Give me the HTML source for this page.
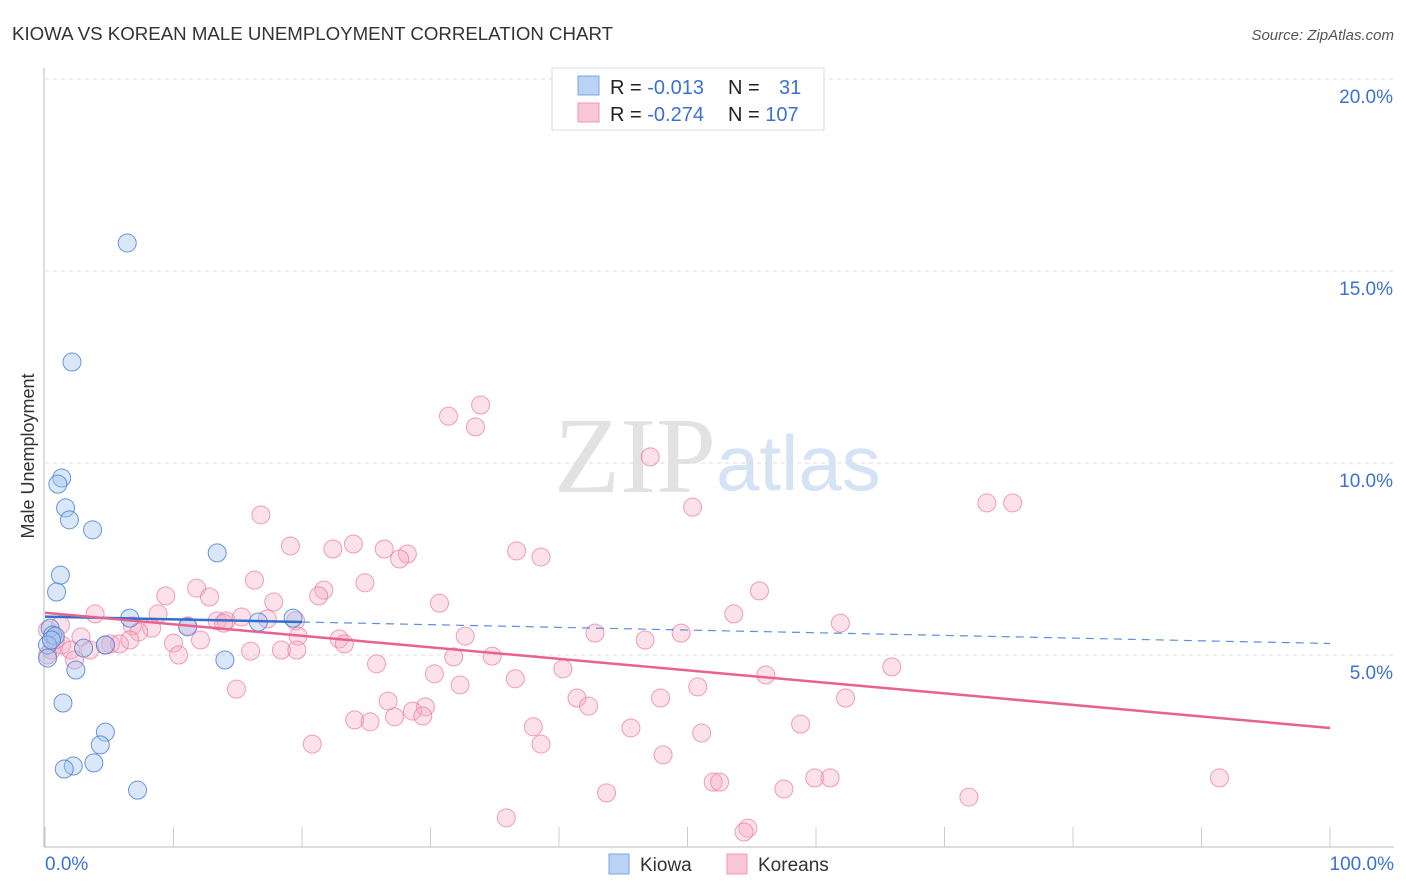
<!DOCTYPE html>
<html><head><meta charset="utf-8"><style>
body{margin:0;background:#fff;font-family:"Liberation Sans",sans-serif;}
svg{display:block}
</style></head><body>
<svg id="chart" width="1406" height="892">
<text x="12" y="40" font-size="18" fill="#333" textLength="601" lengthAdjust="spacingAndGlyphs">KIOWA VS KOREAN MALE UNEMPLOYMENT CORRELATION CHART</text>
<text x="1394" y="40" font-size="15" fill="#555" font-style="italic" text-anchor="end">Source: ZipAtlas.com</text>
<text x="716" y="492" font-size="108" fill="#e2e2e2" text-anchor="end" font-family="Liberation Serif">ZIP</text>
<text x="716" y="490" font-size="78" fill="#d5e3f5">atlas</text>
<text transform="translate(34,456) rotate(-90)" font-size="18" fill="#333" text-anchor="middle">Male Unemployment</text>
<g id="grid"></g><g id="marks"></g>
<g>
<rect x="552" y="68" width="272" height="62" fill="#fff" stroke="#ddd"/>
<rect x="578" y="76" width="21" height="19" fill="#b9d3f5" stroke="#7aa6e0"/>
<rect x="578" y="103" width="21" height="19" fill="#f9c6d6" stroke="#ee9ab4"/>
<text x="610" y="94" font-size="20" fill="#222">R = <tspan fill="#3b72d0">-0.013</tspan></text>
<text x="728" y="94" font-size="20" fill="#222">N = <tspan x="779" fill="#3b72d0">31</tspan></text>
<text x="610" y="121" font-size="20" fill="#222">R = <tspan fill="#3b72d0">-0.274</tspan></text>
<text x="728" y="121" font-size="20" fill="#222">N = <tspan fill="#3b72d0">107</tspan></text>
</g>
<g>
<rect x="609" y="854" width="20" height="20" fill="#b9d3f5" stroke="#7aa6e0"/>
<text x="640" y="871" font-size="19" fill="#333">Kiowa</text>
<rect x="727" y="854" width="20" height="20" fill="#f9c6d6" stroke="#ee9ab4"/>
<text x="758" y="871" font-size="19" fill="#333">Koreans</text>
</g>
</svg>
<script>
const kiowaX=[6.4,2.1,1.3,1.0,1.6,1.9,3.7,13.4,1.2,0.9,6.6,19.3,16.6,11.1,0.4,0.6,0.8,0.2,3.0,4.7,0.2,14.0,2.4,1.4,4.7,4.3,3.8,2.2,1.5,7.2,0.5];
const kiowaY=[15.73,12.63,9.61,9.45,8.83,8.52,8.26,7.66,7.08,6.64,5.96,5.96,5.86,5.73,5.70,5.52,5.49,5.26,5.18,5.26,4.92,4.87,4.61,3.75,2.99,2.66,2.19,2.11,2.03,1.48,5.39];
const korX=[31.4,33.9,33.5,47.1,50.4,73.3,75.3,16.8,19.1,22.4,24.0,26.4,28.2,27.6,36.7,38.6,16.3,11.8,24.9,21.7,9.4,12.8,21.3,17.8,30.7,55.6,3.9,8.8,53.6,13.4,14.1,15.3,17.3,19.5,61.9,6.8,8.3,11.1,13.9,2.8,5.1,5.8,7.3,10.0,12.1,19.7,22.9,23.3,32.7,42.8,46.7,49.5,4.7,1.3,0.5,2.0,3.5,10.4,16.0,18.4,19.6,31.8,34.8,25.8,40.3,65.9,30.3,36.6,56.1,32.3,14.9,50.8,26.7,41.4,42.3,47.9,62.3,29.6,28.6,24.1,25.3,27.2,29.4,38.0,45.6,58.8,51.1,20.8,38.6,48.1,52.0,52.5,57.5,59.9,61.1,91.4,43.7,71.9,35.9,54.7,54.4,0.8,0.2,1.2,0.2,2.3,6.6];
const korY=[11.22,11.51,10.94,10.16,8.85,8.96,8.96,8.65,7.84,7.76,7.89,7.76,7.63,7.50,7.71,7.55,6.95,6.74,6.88,6.69,6.54,6.51,6.54,6.38,6.35,6.67,6.07,6.07,6.07,5.89,5.89,5.99,5.94,5.89,5.83,5.76,5.70,5.76,5.83,5.47,5.29,5.29,5.60,5.31,5.39,5.49,5.42,5.29,5.49,5.57,5.39,5.57,5.26,5.26,5.13,5.13,5.13,5.00,5.10,5.13,5.13,4.95,4.97,4.77,4.64,4.69,4.51,4.38,4.48,4.22,4.11,4.17,3.80,3.88,3.67,3.88,3.88,3.65,3.54,3.31,3.26,3.39,3.41,3.13,3.10,3.20,2.97,2.68,2.68,2.40,1.69,1.69,1.51,1.80,1.80,1.80,1.41,1.30,0.76,0.49,0.39,5.39,5.65,5.78,5.00,4.87,5.39];
const yTicks=[5,10,15,20];
const kiowaTrend=[6.0,5.3];
const korTrend=[6.1,3.1];
const NS="http://www.w3.org/2000/svg";
const sx=v=>45+v*12.85, sy=v=>847-v*38.4;
function mk(tag,attrs,parent){const e=document.createElementNS(NS,tag);for(const k in attrs)e.setAttribute(k,attrs[k]);parent.appendChild(e);return e;}
const grid=document.getElementById('grid'), marks=document.getElementById('marks');
yTicks.forEach(t=>{
 const l=mk('line',{x1:45,x2:1394,y1:sy(t),y2:sy(t),stroke:'#ddd','stroke-dasharray':'4,4'},grid);
 
 
 const tx=mk('text',{x:1393,y:sy(t)+24,'font-size':19,fill:'#3b72d0','text-anchor':'end'},grid);
 tx.textContent=t.toFixed(1)+'%';
 
 
});
const ax=mk('line',{x1:44,x2:44,y1:68,y2:847,stroke:'#bbb'},grid);


const bx=mk('line',{x1:44,x2:1394,y1:847,y2:847,stroke:'#bbb'},grid);


for(let i=0;i<=10;i++){const t=mk('line',{x1:sx(i*10),x2:sx(i*10),y1:827,y2:847,stroke:'#ccc'},grid);
 
 }
const xl=mk('text',{x:45,y:870,'font-size':19,fill:'#3b72d0'},grid);xl.textContent='0.0%';


const xr=mk('text',{x:1394,y:870,'font-size':19,fill:'#3b72d0','text-anchor':'end'},grid);xr.textContent='100.0%';


korX.forEach((x,i)=>{const c=mk('circle',{cx:sx(x),cy:sy(korY[i]),r:9,fill:'rgba(246,170,195,0.35)',stroke:'rgba(232,120,155,0.7)','stroke-width':1},marks);
 
 });
kiowaX.forEach((x,i)=>{const c=mk('circle',{cx:sx(x),cy:sy(kiowaY[i]),r:9,fill:'rgba(160,195,240,0.4)',stroke:'rgba(70,125,210,0.8)','stroke-width':1},marks);
 
 });
const kAt=x=>kiowaTrend[0]+(kiowaTrend[1]-kiowaTrend[0])*x/100;
const l1=mk('line',{x1:sx(0),y1:sy(kAt(0)),x2:sx(20),y2:sy(kAt(20)),stroke:'#2f6fd0','stroke-width':2.5},marks);


const l2=mk('line',{x1:sx(20),y1:sy(kAt(20)),x2:sx(100),y2:sy(kAt(100)),stroke:'#5d8fdb','stroke-width':1.2,'stroke-dasharray':'8,6'},marks);


const l3=mk('line',{x1:sx(0),y1:sy(korTrend[0]),x2:sx(100),y2:sy(korTrend[1]),stroke:'#e8628f','stroke-width':2.5},marks);


</script>
</body></html>
